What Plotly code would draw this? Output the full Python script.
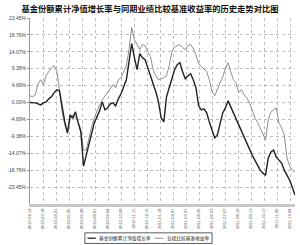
import pandas as pd
import plotly.graph_objects as go

title = "基金份额累计净值增长率与同期业绩比较基准收益率的历史走势对比图"
series_names = ["基金份额累计净值增长率", "业绩比较基准收益率"]

dates = pd.date_range("2010-02-12", periods=100, freq="7D")

fund = [0.00, 0.06, -0.08, -0.36, -0.64, -0.08, 0.19, 1.03, 1.59, 2.70,
        3.54, 3.26, -1.48, -5.38, -8.44, -3.43, -4.26, -2.59, -5.65, -8.16,
        -17.63, -14.57, -12.06, -8.44, -5.65, -3.98, -2.31, 0.19, -2.03, -1.48,
        -0.36, -0.08, -0.92, 1.03, 2.42, 4.37, 6.32, 11.33, 16.35, 12.45,
        9.11, 13.56, 12.45, 11.89, 9.66, 7.71, 5.49, 2.98, 0.19, -4.26,
        -5.38, 1.59, 4.09, 6.88, 9.11, 10.50, 11.06, 8.55, 6.60, 7.44,
        7.99, 6.32, 4.09, -0.92, -2.03, -1.75, -2.87, -5.38, -7.60, -9.83,
        -9.00, -6.21, -2.87, -1.48, 0.47, -1.20, -2.87, -4.54, -6.21, -8.16,
        -9.83, -11.50, -13.17, -14.57, -15.96, -17.35, -18.74, -19.58, -20.13, -15.40,
        -13.73, -13.17, -15.12, -15.96, -16.79, -18.74, -20.13, -21.53, -23.48, -25.70]

bench = [1.87, 1.59, 2.14, 5.21, 6.32, 4.93, 7.44, 8.55, 9.66, 10.22,
         8.83, 3.54, -2.59, -6.21, -8.44, -4.82, -3.43, -4.26, -5.38, -7.60,
         -13.17, -13.17, -9.83, -6.77, -4.26, -2.31, -0.64, 0.75, 1.87, 2.98,
         4.09, 4.93, 4.09, 6.32, 6.88, 8.83, 10.22, 14.68, 20.80, 17.46,
         16.07, 14.68, 16.07, 15.79, 14.12, 12.73, 9.11, 7.44, 6.32, 6.60,
         6.88, 7.44, 10.22, 14.12, 15.51, 15.79, 16.07, 15.23, 14.68, 15.79,
         16.07, 14.96, 13.28, 10.78, 9.94, 9.11, 8.55, 6.32, 2.98, 1.87,
         3.54, 5.49, 7.16, 9.39, 11.06, 8.55, 6.32, 5.49, 2.70, 3.54,
         2.14, 1.31, -0.08, -2.03, -4.26, -5.38, -7.05, -9.00, -10.39, -4.82,
         -2.59, -2.03, -1.48, -5.65, -7.05, -9.00, -15.40, -17.63, -18.74, -19.30]

y_ticks = [-23.45, -18.76, -14.07, -9.38, -4.69, 0.00, 4.69, 9.38, 14.07, 18.76, 23.45]
y_ticktext = ["-23.45%", "-18.76%", "-14.07%", "-9.38%", "-4.69%", "0.00%",
              "4.69%", "9.38%", "14.07%", "18.76%", "23.45%"]

x_ticks = ["2010-02-12", "2010-03-18", "2010-04-21", "2010-05-25", "2010-06-28",
           "2010-08-01", "2010-09-04", "2010-10-08", "2010-11-11", "2010-12-15",
           "2011-01-18", "2011-02-21", "2011-03-27", "2011-04-30", "2011-06-03",
           "2011-07-07", "2011-08-10", "2011-09-13", "2011-10-17", "2011-11-20",
           "2011-12-24"]

fund_color = "#222222"
bench_color = "#8f8f8f"

fig = go.Figure()
fig.add_trace(go.Scatter(x=dates, y=bench, mode="lines", name=series_names[1],
                         line=dict(color=bench_color, width=1), showlegend=False))
fig.add_trace(go.Scatter(x=dates, y=fund, mode="lines", name=series_names[0],
                         line=dict(color=fund_color, width=1.4), showlegend=False))

fig.update_layout(
    width=300, height=245,
    margin=dict(l=30, r=5, t=18, b=41),
    paper_bgcolor="white", plot_bgcolor="white",
    title=dict(text="<b>" + title + "</b>", x=0.5, xanchor="center", y=0.962, yanchor="middle",
               font=dict(family="Noto Sans CJK SC", size=8.3, color="#111")),
    font=dict(family="Liberation Sans", size=5, color="#333"),
)
fig.update_xaxes(
    range=[dates[0], dates[-1]],
    tickmode="array", tickvals=x_ticks, ticktext=x_ticks, tickangle=-90,
    tickfont=dict(size=4.0, color="#444"),
    showgrid=True, gridcolor="#bdbdbd", griddash="dot", gridwidth=0.6,
    showline=True, linecolor="#c8c8c8", linewidth=3, ticks="", zeroline=False,
    automargin=False,
)
fig.update_yaxes(
    range=[-28.14, 23.45],
    tickmode="array", tickvals=y_ticks, ticktext=y_ticktext,
    tickfont=dict(size=5, color="#444"),
    showgrid=True, gridcolor="#bdbdbd", griddash="dot", gridwidth=0.6,
    showline=True, linecolor="#9a9a9a", linewidth=1, ticks="outside", ticklen=2,
    tickcolor="#9a9a9a", zeroline=False, automargin=False,
)

# custom compact legend
fig.add_shape(type="rect", xref="paper", yref="paper", x0=0.207, x1=0.687, y0=-0.212, y1=-0.155,
              line=dict(color="#333", width=0.8), fillcolor="white")
fig.add_shape(type="line", xref="paper", yref="paper", x0=0.217, x1=0.248, y0=-0.184, y1=-0.184,
              line=dict(color=fund_color, width=1.3))
fig.add_annotation(xref="paper", yref="paper", x=0.252, y=-0.184, xanchor="left", yanchor="middle",
                   text=series_names[0], showarrow=False,
                   font=dict(family="Noto Sans CJK SC", size=4.7, color="#222"))
fig.add_shape(type="line", xref="paper", yref="paper", x0=0.47, x1=0.503, y0=-0.184, y1=-0.184,
              line=dict(color=bench_color, width=1))
fig.add_annotation(xref="paper", yref="paper", x=0.508, y=-0.184, xanchor="left", yanchor="middle",
                   text=series_names[1], showarrow=False,
                   font=dict(family="Noto Sans CJK SC", size=4.7, color="#222"))

fig.write_html("out.html")
